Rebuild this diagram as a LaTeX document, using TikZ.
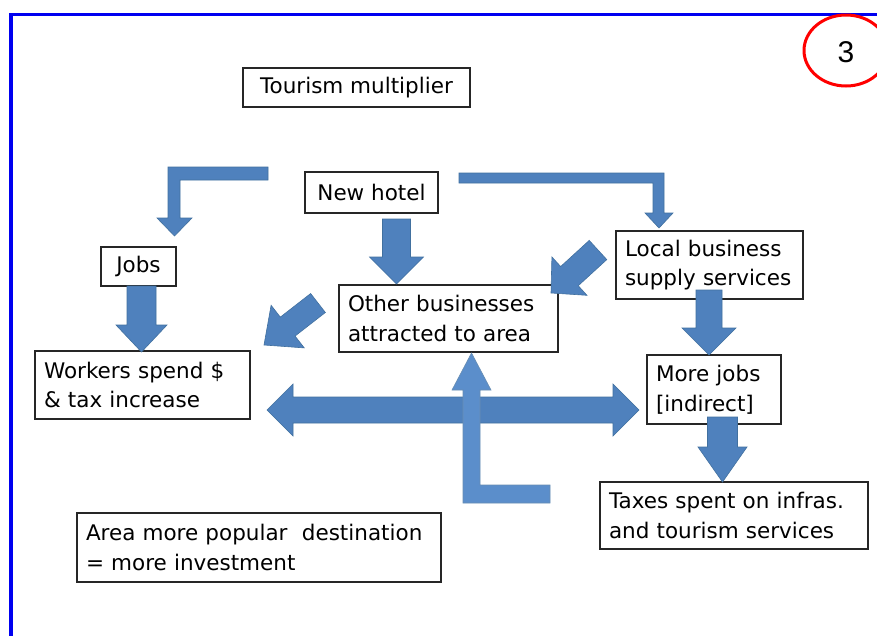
\documentclass[tikz,border=0pt]{standalone}
\usepackage{fontspec}
\setmainfont{DejaVu Sans}
\newfontfamily\numfont{Liberation Sans}
\usetikzlibrary{calc}
\definecolor{arrblue}{HTML}{4F81BD}
\definecolor{arredge}{HTML}{41709F}
\definecolor{uparr}{HTML}{5B8ECB}
\definecolor{frameblue}{HTML}{0000F0}
\tikzset{
  box/.style={draw=black!85, line width=1.5pt, fill=white, inner xsep=9pt, inner ysep=0pt,
    font=\fontsize{21.5}{29.5}\selectfont},
  multibox/.style={box, align=left},
  onebox/.style={box, align=center},
  barr/.style={fill=arrblue, draw=arredge, line width=0.6pt, line join=miter},
  uarr/.style={fill=uparr, draw=arredge!80, line width=0.6pt},
}
% #1 style, #2 tail, #3 tip, #4 shaft half width, #5 head half width, #6 head length (all in pt)
\newcommand\blockarr[6]{%
  \coordinate (bT) at (#3);
  \coordinate (bS) at (#2);
  \coordinate (bB) at ($(bT)!#6pt!(bS)$);
  \filldraw[#1] (bT) -- ($(bB)!#5pt!90:(bT)$) -- ($(bB)!#4pt!90:(bT)$) -- ($(bS)!#4pt!90:(bT)$)
    -- ($(bS)!#4pt!-90:(bT)$) -- ($(bB)!#4pt!-90:(bT)$) -- ($(bB)!#5pt!-90:(bT)$) -- cycle;}
\begin{document}
\begin{tikzpicture}[x=1pt,y=-1pt]
\clip (0,0) rectangle (877,635);
\fill[white] (0,0) rectangle (877,635);
% frame
\draw[frameblue, line width=3.5pt] (11,14.5) rectangle (920,680);
% red number badge
\draw[red, line width=3pt] (846,50.5) ellipse [x radius=42, y radius=35.5];
\node[font=\numfont\fontsize{30}{30}\selectfont] (num) at (846,52) {3};
% boxes
\node[onebox, minimum width=227, minimum height=39] (tour) at (356.5,87.5) {Tourism multiplier};
\node[onebox, minimum width=133, minimum height=41] (hotel) at (371.5,192.5) {New hotel};
\node[onebox, minimum width=75, minimum height=39] (jobs) at (138.5,266.5) {Jobs};
\node[multibox, text width=201, minimum height=67] (other) at (448.5,318.5) {Other businesses\\attracted to area};
\node[multibox, text width=169, minimum height=68] (local) at (709.5,265) {Local business\\supply services};
\node[multibox, text width=197, minimum height=68] (workers) at (142.5,385) {Workers spend \$\\\& tax increase};
\node[multibox, text width=116, minimum height=69] (more) at (714,389.5) {More jobs\\{[indirect]}};
\node[multibox, text width=250, minimum height=67] (taxes) at (734,515.5) {Taxes spent on infras.\\and tourism services};
\node[multibox, text width=346, minimum height=69] (area) at (259,547.5) {Area more popular~ destination\\= more investment};
% arrow end points
\coordinate (jobsT) at (141.5,286);
\coordinate (workersH) at (141.5,352);
\coordinate (hotelT) at (396.5,219);
\coordinate (otherH) at (396.5,284);
\coordinate (localT) at (709,290);
\coordinate (moreH) at (709,355);
\coordinate (moreT) at (722.5,417);
\coordinate (taxesH) at (722.5,482);
\coordinate (localD) at (598,250);
\coordinate (otherD) at (551,293);
\coordinate (otherW) at (318,303);
\coordinate (workersD) at (264,345);
% elbow arrows from the hotel
\filldraw[barr] (268,167) -- (168,167) -- (168,218) -- (157,218) -- (174.5,236) -- (192,218)
  -- (180,218) -- (180,180) -- (268,180) -- cycle;
\filldraw[barr] (459,173) -- (664,173) -- (664,213) -- (673,213) -- (659,228) -- (645,213)
  -- (653,213) -- (653,183) -- (459,183) -- cycle;
% straight arrows
\blockarr{barr}{jobsT}{workersH}{14.5}{25.5}{27}
\blockarr{barr}{hotelT}{otherH}{14}{27}{27}
\blockarr{barr}{localT}{moreH}{13}{27}{27}
\blockarr{barr}{moreT}{taxesH}{15}{24.5}{35}
\blockarr{barr}{localD}{otherD}{13}{26}{25}
\blockarr{barr}{otherW}{workersD}{12}{27}{30}
% double horizontal arrow
\filldraw[barr] (267,410) -- (293,384) -- (293,397) -- (613,397) -- (613,384) -- (639,410)
  -- (613,436) -- (613,423) -- (293,423) -- (293,436) -- cycle;
% upward L arrow
\filldraw[uarr] (550,485) -- (480,485) -- (480,390) -- (491,390) -- (471.5,353) -- (452,390)
  -- (463,390) -- (463,503) -- (550,503) -- cycle;
\end{tikzpicture}
\end{document}
